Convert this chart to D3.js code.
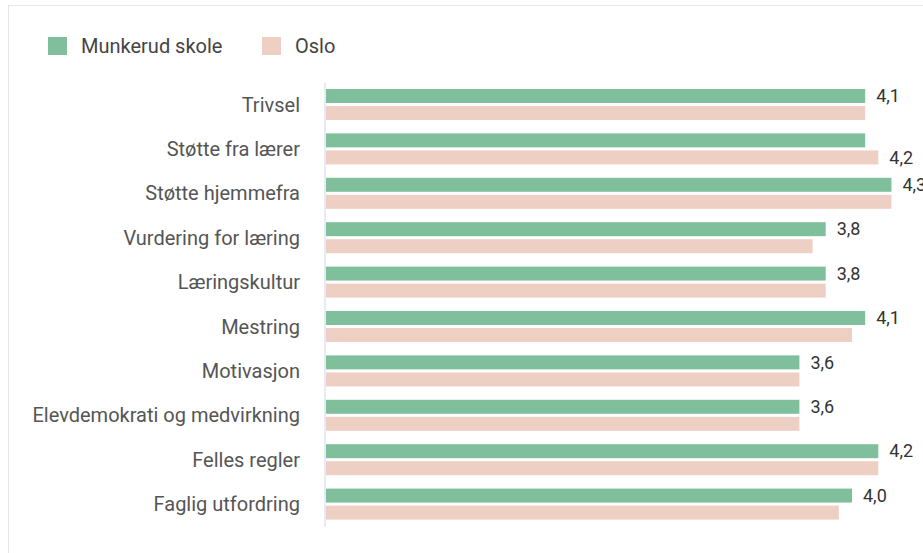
<!DOCTYPE html>
<html lang='no'>
<head>
  <meta charset='UTF-8'>
  <title>Munkerud skole</title>
  <script src='https://d3js.org/d3.v7.min.js'></script>
  <style>
    body { margin: 0; background: #fff; }
    svg { display: block; font-family: Roboto, 'Open Sans', sans-serif; }
  </style>
</head>
<body>
  <svg width='923' height='553'></svg>

  <script>
    var categories = ['Trivsel', 'Støtte fra lærer', 'Støtte hjemmefra', 'Vurdering for læring',
      'Læringskultur', 'Mestring', 'Motivasjon', 'Elevdemokrati og medvirkning',
      'Felles regler', 'Faglig utfordring'];
    var seriesNames = ['Munkerud skole', 'Oslo'];
    var munkerud = [4.1, 4.1, 4.3, 3.8, 3.8, 4.1, 3.6, 3.6, 4.2, 4.0];
    var oslo = [4.1, 4.2, 4.3, 3.7, 3.8, 4.0, 3.6, 3.6, 4.2, 3.9];
    var colors = ['#7fbf9b', '#eecfc3'];

    var svg = d3.select('svg');

    // card border, runs off the right and bottom edge
    svg.append('rect')
      .attr('x', 8.5).attr('y', 5.5)
      .attr('width', 1000).attr('height', 1000)
      .attr('fill', '#fff')
      .attr('stroke', '#e6e6e6');

    var y = d3.scaleBand()
      .domain(categories)
      .range([83, 527]);
    var y1 = d3.scaleBand()
      .domain(seriesNames)
      .range([6, 37])
      .paddingInner(0.18);
    var x = d3.scaleLinear()
      .domain([0, 5])
      .range([326, 983.5]);

    var rows = categories.map((c, i) => ({
      cat: c,
      vals: [munkerud[i], oslo[i]]
    }));

    var g = svg.append('g');

    var row = g.selectAll('g.row').data(rows)
      .enter().append('g')
      .attr('class', 'row')
      .attr('transform', d => 'translate(0,' + y(d.cat) + ')');

    row.selectAll('rect').data(d => d.vals.map((v, j) => ({name: seriesNames[j], v: v, j: j})))
      .enter().append('rect')
      .attr('x', x(0))
      .attr('y', d => y1(d.name))
      .attr('width', d => x(d.v) - x(0))
      .attr('height', y1.bandwidth())
      .attr('fill', d => colors[d.j]);

    // one value label per category: the larger series, first one on a tie
    row.append('text')
      .attr('x', d => x(d3.max(d.vals)) + 11)
      .attr('y', d => {
        var j = d.vals[1] > d.vals[0] ? 1 : 0;
        return y1(seriesNames[j]) + y1.bandwidth() / 2;
      })
      .attr('dy', '0.35em')
      .attr('fill', '#333')
      .style('font-size', '18px')
      .text(d => d3.max(d.vals).toFixed(1).replace('.', ','));

    // category axis
    var axis = g.append('g')
      .attr('transform', 'translate(' + x(0) + ',0)')
      .call(d3.axisLeft(y).tickSize(0).tickPadding(26));
    axis.select('.domain')
      .attr('stroke', '#ccd6eb')
      .attr('d', 'M-1,83V527');
    axis.selectAll('text')
      .attr('fill', '#555')
      .style('font-size', '20px')
      .style('font-family', 'Roboto, sans-serif');

    // legend
    var legendX = [48, 262];
    var legend = svg.append('g').selectAll('g').data(seriesNames)
      .enter().append('g')
      .attr('transform', (d, i) => 'translate(' + legendX[i] + ',37)');
    legend.append('rect')
      .attr('width', 19).attr('height', 18)
      .attr('fill', (d, i) => colors[i]);
    legend.append('text')
      .attr('x', 33).attr('y', 9)
      .attr('dy', '0.35em')
      .attr('fill', '#444')
      .style('font-size', '20px')
      .text(d => d);
  </script>
</body>
</html>
